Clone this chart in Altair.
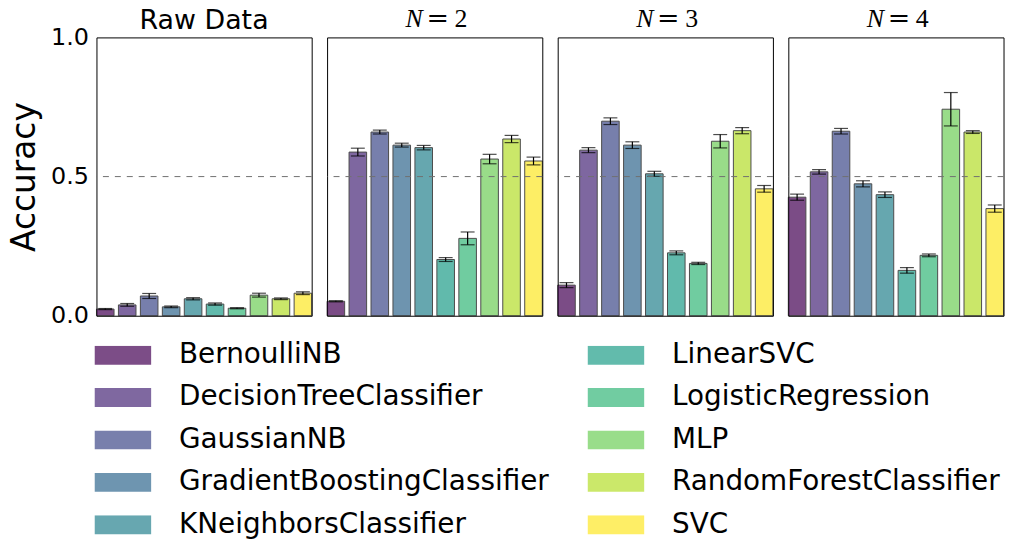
import altair as alt
import pandas as pd

models = ["BernoulliNB", "DecisionTreeClassifier", "GaussianNB",
          "GradientBoostingClassifier", "KNeighborsClassifier", "LinearSVC",
          "LogisticRegression", "MLP", "RandomForestClassifier", "SVC"]
colors = ["#440154", "#482878", "#3e4989", "#31688e", "#26828e",
          "#1f9e89", "#35b779", "#6ece58", "#b5de2b", "#fde725"]

panel_names = ["Raw Data", "N=2", "N=3", "N=4"]

raw_mean = [0.024, 0.039, 0.071, 0.032, 0.061, 0.042, 0.027, 0.074, 0.061, 0.081]
raw_err = [0.002, 0.005, 0.009, 0.003, 0.004, 0.004, 0.002, 0.007, 0.003, 0.005]
n2_mean = [0.052, 0.588, 0.660, 0.613, 0.604, 0.202, 0.278, 0.563, 0.635, 0.556]
n2_err = [0.002, 0.014, 0.007, 0.007, 0.008, 0.007, 0.023, 0.017, 0.013, 0.014]
n3_mean = [0.110, 0.595, 0.699, 0.613, 0.510, 0.226, 0.188, 0.627, 0.665, 0.456]
n3_err = [0.009, 0.009, 0.012, 0.012, 0.009, 0.007, 0.004, 0.024, 0.011, 0.012]
n4_mean = [0.426, 0.517, 0.663, 0.474, 0.435, 0.163, 0.217, 0.742, 0.660, 0.385]
n4_err = [0.011, 0.008, 0.010, 0.011, 0.010, 0.010, 0.005, 0.060, 0.005, 0.013]

means = [raw_mean, n2_mean, n3_mean, n4_mean]
errs = [raw_err, n2_err, n3_err, n4_err]

rows = []
for p, mean, err in zip(panel_names, means, errs):
    for i, m in enumerate(models):
        rows.append(dict(panel=p, model=m, acc=mean[i],
                         lo=mean[i] - err[i], hi=mean[i] + err[i]))
df = pd.DataFrame(rows)

W, H = 216.5, 280

color = alt.Color(
    "model:N",
    scale=alt.Scale(domain=models, range=colors),
    legend=alt.Legend(
        title=None, orient="none", legendX=-2, legendY=310, columns=2,
        symbolType="M-1,-0.333H1V0.333H-1Z", symbolSize=3249,
        clipHeight=19, labelFontSize=28, labelFont="DejaVu Sans",
        labelOffset=28, rowPadding=13.7, columnPadding=38,
        symbolOpacity=0.7, symbolStrokeWidth=0, labelLimit=0,
        symbolOffset=0, padding=0, labelColor="black",
    ),
)


def make_panel(idx):
    name = panel_names[idx]
    sub = df[df.panel == name]
    base = alt.Chart(sub)
    x = alt.X("model:N", sort=models,
              scale=alt.Scale(paddingInner=0.2, paddingOuter=0), axis=None)
    if idx == 0:
        yax = alt.Axis(values=[0, 0.5, 1.0], format=".1f", title="Accuracy")
    else:
        yax = None
    ysc = alt.Scale(domain=[0, 1], nice=False)
    bars = base.mark_bar(opacity=0.7, stroke="black", strokeWidth=1).encode(
        x=x, y=alt.Y("acc:Q", scale=ysc, axis=yax), color=color)
    err = base.mark_rule(color="black", strokeWidth=1.2).encode(
        x=x, y=alt.Y("lo:Q", scale=ysc, axis=yax), y2="hi:Q")
    cap_lo = base.mark_tick(color="black", thickness=1.2, size=14).encode(
        x=x, y=alt.Y("lo:Q", scale=ysc, axis=yax))
    cap_hi = base.mark_tick(color="black", thickness=1.2, size=14).encode(
        x=x, y=alt.Y("hi:Q", scale=ysc, axis=yax))
    dash = alt.Chart(pd.DataFrame({"v": [0.5]})).mark_rule(
        color="#707070", strokeWidth=1, strokeDash=[6, 6]).encode(
        y=alt.datum(0.5))
    layers = [bars, err, cap_lo, cap_hi, dash]
    if idx == 0:
        layers.append(alt.Chart(pd.DataFrame({"t": [name]})).mark_text(
            font="DejaVu Sans", fontSize=27, baseline="alphabetic",
            align="center", color="black").encode(
            text="t:N", x=alt.value(W / 2), y=alt.value(-8)))
    else:
        n_label, num = name.split("=")
        layers.append(alt.Chart(pd.DataFrame({"t": [n_label]})).mark_text(
            font="Liberation Serif", fontStyle="italic", fontSize=26,
            baseline="alphabetic", align="right", color="black").encode(
            text="t:N", x=alt.value(W / 2 - 12), y=alt.value(-10)))
        layers.append(alt.Chart(pd.DataFrame({"t": ["="]})).mark_text(
            font="DejaVu Serif", fontSize=27,
            baseline="alphabetic", align="center", color="black").encode(
            text="t:N", x=alt.value(W / 2 + 3), y=alt.value(-10)))
        layers.append(alt.Chart(pd.DataFrame({"t": [num]})).mark_text(
            font="Liberation Serif", fontSize=26,
            baseline="alphabetic", align="left", color="black").encode(
            text="t:N", x=alt.value(W / 2 + 20), y=alt.value(-10)))
    return alt.layer(*layers).properties(width=W, height=H)


chart = alt.hconcat(*[make_panel(i) for i in range(4)], spacing=13).properties(
    padding={"left": 0, "top": -5, "right": 4, "bottom": 0}
).configure_view(stroke="black", strokeWidth=1).configure_axis(
    labelFontSize=24, titleFontSize=33, titleFontWeight="normal",
    labelFont="DejaVu Sans", titleFont="DejaVu Sans",
    ticks=False, domain=False, grid=False, labelPadding=8, titlePadding=9,
    labelColor="black", titleColor="black",
)

chart.save("out.html", embed_options={"renderer": "svg", "actions": False})
